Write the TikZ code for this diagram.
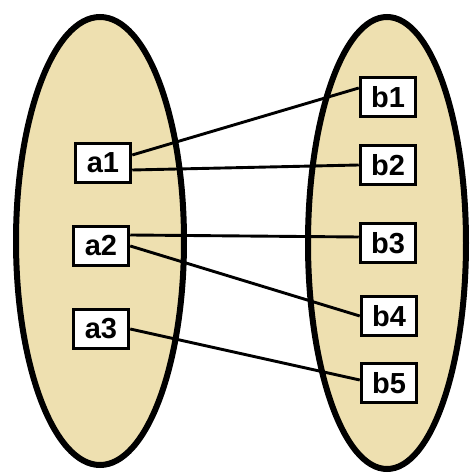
\documentclass[tikz,border=0pt]{standalone}
\usepackage{fontspec}
\setmainfont{Liberation Sans}
\usepackage{xcolor}
\usepackage{tikz}
\usetikzlibrary{
  positioning,
  calc
}
\definecolor{setfill}{RGB}{238, 224, 176}

\begin{document}
\begin{tikzpicture}[x=1pt, y=1pt,
  elem/.style={draw=black, fill=white, line width=3.5pt, inner sep=0pt,
               minimum width=55pt, minimum height=39pt,
               font=\fontsize{29}{31}\selectfont\bfseries},
  link/.style={draw=black, line width=2.9pt}]
\useasboundingbox (0,0) rectangle (475,474);

% the two sets
\draw[fill=setfill, line width=6pt] (100,233) ellipse [x radius=84, y radius=224];
\draw[fill=setfill, line width=6pt] (387,231) ellipse [x radius=79, y radius=226];

% elements of A
\node[elem] (a1) at (103,311) {a1};
\node[elem] (a2) at (101,228) {a2};
\node[elem] (a3) at (101,145) {a3};

% elements of B
\node[elem] (b1) at (388,377) {b1};
\node[elem] (b2) at (388,309) {b2};
\node[elem] (b3) at (388,231) {b3};
\node[elem] (b4) at (389,158) {b4};
\node[elem] (b5) at (389,91) {b5};

% mapping
\draw[link] ([yshift=8pt]a1.east) -- ([yshift=9pt]b1.west);
\draw[link] ([yshift=-7pt]a1.east) -- (b2.west);
\draw[link] ([yshift=11pt]a2.east) -- ([yshift=6pt]b3.west);
\draw[link] (a2.east) -- (b4.west);
\draw[link] (a3.east) -- ([yshift=3pt]b5.west);
\end{tikzpicture}
\end{document}
